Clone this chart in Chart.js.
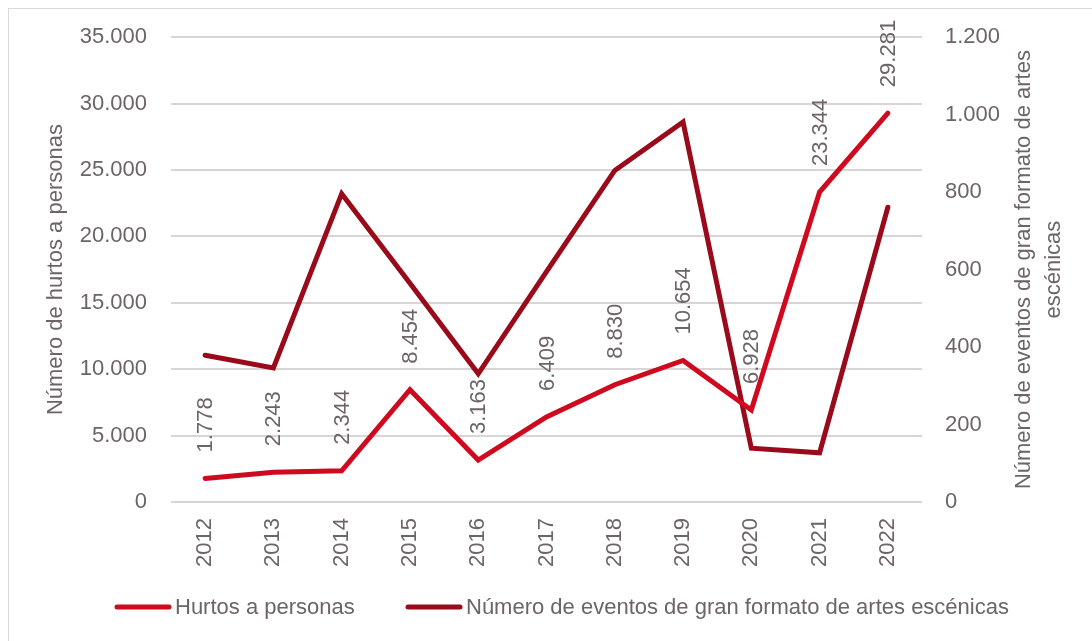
<!DOCTYPE html>
<html>
<head>
<meta charset="utf-8">
<script src="https://cdn.jsdelivr.net/npm/chart.js@4"></script>
<style>
  html, body { margin: 0; padding: 0; background: #fff; overflow: hidden; }
  #wrap { position: relative; width: 1092px; height: 641px; }
  #frame { position: absolute; left: 8px; top: 8px; width: 1200px; height: 700px; border: 1px solid #d9d9d9; box-sizing: border-box; }
  canvas { position: absolute; left: 0; top: 0; }
</style>
</head>
<body>
<div id="wrap">
  <div id="frame"></div>
  <canvas id="chart" width="1092" height="641"></canvas>
</div>
<script>
const years = ['2012', '2013', '2014', '2015', '2016', '2017', '2018', '2019', '2020', '2021', '2022'];
const hurtos = [1778, 2243, 2344, 8454, 3163, 6409, 8830, 10654, 6928, 23344, 29281];
const eventos = [379, 346, 796, 565, 331, 595, 856, 981, 139, 127, 761];

const seriesNames = ['Hurtos a personas', 'Número de eventos de gran formato de artes escénicas'];
const seriesColors = ['#cf0a1f', '#990b1b'];
const leftTitle = 'Número de hurtos a personas';
const rightTitle = ['Número de eventos de gran formato de artes', 'escénicas'];

const textColor = '#6d6467';
const fontFamily = '"Liberation Sans", Arial, sans-serif';
const fontSize = 22;

function fmt(v) {
    return String(Math.round(v)).replace(/\B(?=(\d{3})+(?!\d))/g, '.');
}

// rotated value labels, both axis titles and the legend
const extrasPlugin = {
    id: 'extras',
    afterDatasetsDraw(chart) {
        const ctx = chart.ctx;
        const meta = chart.getDatasetMeta(0);
        ctx.save();
        ctx.fillStyle = textColor;
        ctx.font = fontSize + 'px ' + fontFamily;
        ctx.textAlign = 'left';
        ctx.textBaseline = 'middle';
        meta.data.forEach((pt, i) => {
            ctx.save();
            ctx.translate(pt.x + 1, pt.y - 26);
            ctx.rotate(-Math.PI / 2);
            ctx.fillText(fmt(hurtos[i]), 0, 0);
            ctx.restore();
        });
        ctx.restore();
    },
    afterDraw(chart) {
        const ctx = chart.ctx;
        const area = chart.chartArea;
        const midY = (area.top + area.bottom) / 2;
        ctx.save();
        ctx.fillStyle = textColor;
        ctx.font = fontSize + 'px ' + fontFamily;
        ctx.textAlign = 'center';
        ctx.textBaseline = 'middle';

        ctx.save();
        ctx.translate(56, midY);
        ctx.rotate(-Math.PI / 2);
        ctx.fillText(leftTitle, 0, 0);
        ctx.restore();

        ctx.save();
        ctx.translate(1024, midY);
        ctx.rotate(-Math.PI / 2);
        ctx.fillText(rightTitle[0], 0, 0);
        ctx.fillText(rightTitle[1], 0, 30);
        ctx.restore();

        // legend
        const legendY = 607;
        const items = [
            { x: 115, name: seriesNames[0], color: seriesColors[0] },
            { x: 406, name: seriesNames[1], color: seriesColors[1] }
        ];
        ctx.textAlign = 'left';
        ctx.lineWidth = 5;
        ctx.lineCap = 'round';
        items.forEach(it => {
            ctx.strokeStyle = it.color;
            ctx.beginPath();
            ctx.moveTo(it.x + 2, legendY);
            ctx.lineTo(it.x + 54, legendY);
            ctx.stroke();
            ctx.fillText(it.name, it.x + 60, legendY + 1);
        });

        ctx.restore();
    }
};

new Chart(document.getElementById('chart'), {
    type: 'line',
    data: {
        labels: years,
        datasets: [
            {
                label: seriesNames[0],
                data: hurtos,
                yAxisID: 'y',
                borderColor: seriesColors[0],
                backgroundColor: seriesColors[0],
                borderWidth: 5,
                borderCapStyle: 'round',
                pointRadius: 0,
                tension: 0
            },
            {
                label: seriesNames[1],
                data: eventos,
                yAxisID: 'y1',
                borderColor: seriesColors[1],
                backgroundColor: seriesColors[1],
                borderWidth: 5,
                borderCapStyle: 'round',
                pointRadius: 0,
                tension: 0
            }
        ]
    },
    options: {
        responsive: false,
        animation: false,
        devicePixelRatio: 1,
        layout: { padding: { top: 37, left: 0, right: 0, bottom: 57 } },
        plugins: {
            tooltip: { enabled: false },
            legend: { display: false }
        },
        scales: {
            x: {
                offset: true,
                grid: { display: false, drawTicks: false },
                border: { display: false },
                ticks: {
                    minRotation: 90,
                    maxRotation: 90,
                    padding: 16,
                    color: textColor,
                    font: { size: fontSize, family: fontFamily }
                },
                afterFit(scale) { scale.height = 82; }
            },
            y: {
                position: 'left',
                min: 0,
                max: 35000,
                grid: { color: '#d9d5d6', lineWidth: 2, drawTicks: false },
                border: { display: false },
                ticks: {
                    stepSize: 5000,
                    padding: 24,
                    color: textColor,
                    font: { size: fontSize, family: fontFamily },
                    callback: (v) => fmt(v)
                },
                afterFit(scale) { scale.width = 171; }
            },
            y1: {
                position: 'right',
                min: 0,
                max: 1200,
                grid: { display: false, drawTicks: false },
                border: { display: false },
                ticks: {
                    stepSize: 200,
                    padding: 23,
                    color: textColor,
                    font: { size: fontSize, family: fontFamily },
                    callback: (v) => fmt(v)
                },
                afterFit(scale) { scale.width = 170; }
            }
        }
    },
    plugins: [extrasPlugin]
});
</script>
</body>
</html>
